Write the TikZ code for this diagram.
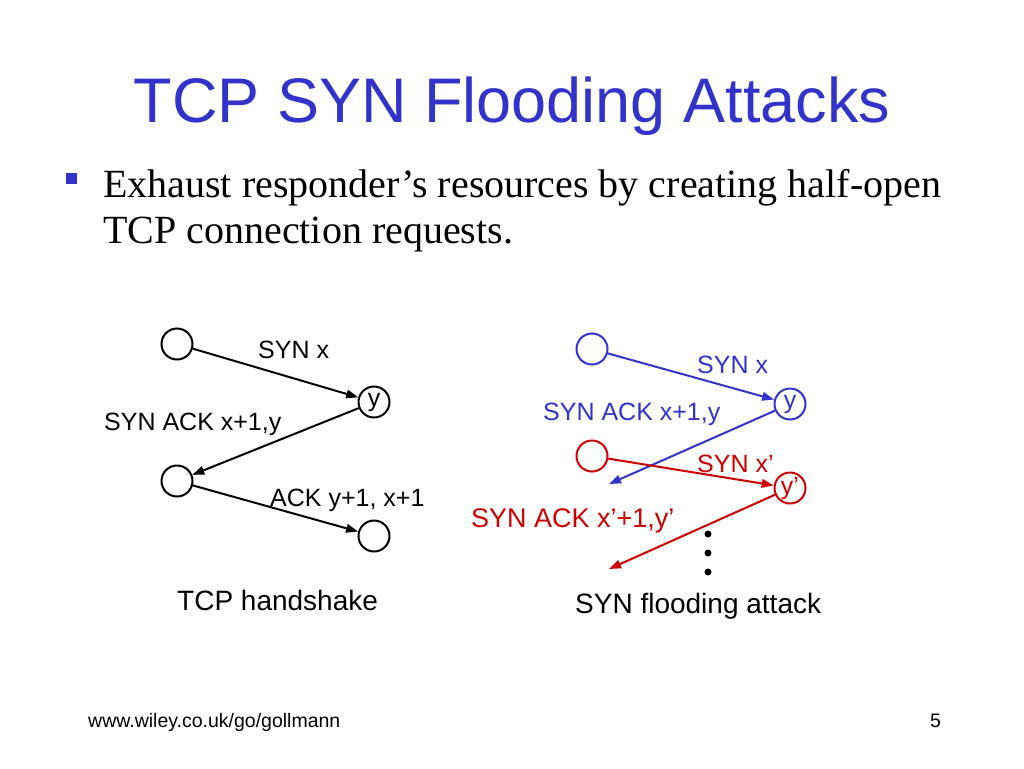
\documentclass[tikz,border=0pt]{standalone}
\usepackage{fontspec}
\setmainfont{Liberation Serif}
\newfontfamily\arialf{Liberation Sans}
\usetikzlibrary{arrows.meta}
\definecolor{tblue}{RGB}{51,51,204}
\definecolor{tred}{RGB}{204,0,0}
\begin{document}
\begin{tikzpicture}[x=1pt,y=-1pt,
  lbl/.style={inner sep=0pt,anchor=base west,font=\arialf\fontsize{25}{30}\selectfont},
  cnode/.style={circle,draw,line width=2pt,minimum size=31pt,inner sep=0pt,font=\arialf\fontsize{25}{30}\selectfont},
  msg/.style={line width=2pt,-{Triangle[length=12pt,width=8.5pt]}},
  dotn/.style={circle,fill=black,inner sep=0pt,minimum size=7pt}]
\useasboundingbox (0,0) rectangle (1024,768);
\fill[white] (0,0) rectangle (1024,768);
% title
\node[inner sep=0pt,anchor=base,text=tblue,font=\arialf\fontsize{63}{70}\selectfont] (title) at (512,122) {TCP SYN Flooding Attacks};
% bullet
\node[fill=tblue,inner sep=0pt,minimum size=11pt] (bul) at (71.5,178.5) {};
\node[inner sep=0pt,anchor=base west,font=\fontsize{40}{46}\selectfont] (b1) at (103,197) {Exhaust responder’s resources by creating half-open};
\node[inner sep=0pt,anchor=base west,font=\fontsize{40}{46}\selectfont] (b2) at (103,243) {TCP connection requests.};
% left diagram
\node[cnode] (A) at (177,344) {};
\node[cnode] (Y) at (374,402) {y};
\node[cnode] (C) at (177,481) {};
\node[cnode] (D) at (374,536) {};
\draw[msg] (A) -- (Y);
\draw[msg] (Y) -- (C);
\draw[msg] (C) -- (D);
\node[lbl] (l1) at (258,358) {SYN x};
\node[lbl] (l2) at (104,430) {SYN ACK x+1,y};
\node[lbl] (l3) at (270,506) {ACK y+1, x+1};
\node[lbl,font=\arialf\fontsize{28}{32}\selectfont] (l4) at (177,610) {TCP handshake};
% right diagram
\node[cnode,draw=tblue,text=tblue] (RA) at (592,349) {};
\node[cnode,draw=tblue,text=tblue] (RY) at (790,404) {y};
\node[cnode,draw=tred] (RB) at (592,456) {};
\node[cnode,draw=tred,text=tred] (RY2) at (790,488) {y’};
\coordinate (e1) at (609,484);
\coordinate (e2) at (609,569);
\draw[msg,tblue] (RA) -- (RY);
\draw[msg,tblue] (RY) -- (e1);
\draw[msg,tred] (RB) -- (RY2);
\draw[msg,tred] (RY2) -- (e2);
\node[lbl,text=tblue] (r1) at (697,373) {SYN x};
\node[lbl,text=tblue] (r2) at (543,420) {SYN ACK x+1,y};
\node[lbl,text=tred] (r3) at (697,472) {SYN x’};
\node[lbl,text=tred,font=\arialf\fontsize{27}{32}\selectfont] (r4) at (471,527) {SYN ACK x’+1,y’};
\node[dotn] (d1) at (708,534) {};
\node[dotn] (d2) at (708,553) {};
\node[dotn] (d3) at (708,572) {};
\node[lbl,font=\arialf\fontsize{28}{32}\selectfont] (r5) at (575,613) {SYN flooding attack};
% footer
\node[inner sep=0pt,anchor=base west,font=\arialf\fontsize{19.5}{24}\selectfont] (foot) at (88,727) {www.wiley.co.uk/go/gollmann};
\node[inner sep=0pt,anchor=base west,font=\arialf\fontsize{19.5}{24}\selectfont] (pg) at (930,727) {5};
\end{tikzpicture}
\end{document}
